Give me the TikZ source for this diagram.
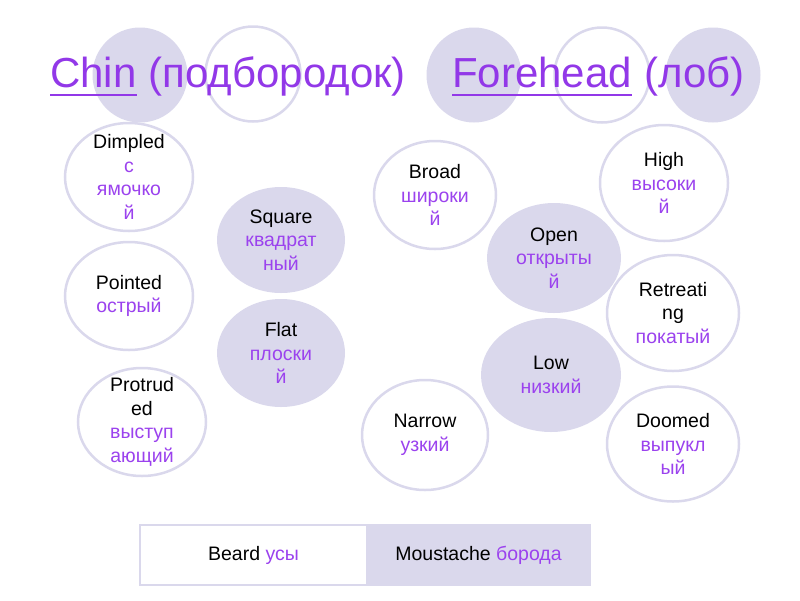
\documentclass[tikz,border=0pt]{standalone}
\usepackage{fontspec}
\setmainfont{Liberation Sans}
\usetikzlibrary{shapes.geometric}
\definecolor{lav}{RGB}{218,216,236}
\definecolor{pur}{RGB}{146,56,232}
\definecolor{rup}{RGB}{155,66,238}
\newcommand\rutext[1]{\textcolor{rup}{#1}}
\tikzset{
  deco/.style={circle, inner sep=0pt, minimum size=95pt},
  decofill/.style={deco, fill=lav},
  decoline/.style={deco, draw=lav, line width=2.5pt, fill=white},
  bubopen/.style={ellipse, inner sep=0pt, draw=lav, line width=2.5pt, fill=white},
  bubfill/.style={ellipse, inner sep=0pt, fill=lav},
  lbl/.style={align=center, inner sep=0pt, font=\fontsize{19.5}{23.5}\selectfont},
  ttl/.style={anchor=base west, inner sep=0pt, text=pur, font=\fontsize{42}{50}\selectfont},
  uline/.style={draw=pur, line width=2.6pt},
  cell/.style={rectangle, inner sep=0pt, minimum height=60pt, font=\fontsize{19.5}{23.5}\selectfont}
}
\begin{document}
\begin{tikzpicture}[x=1pt,y=-1pt]
\useasboundingbox (0,0) rectangle (800,600);
% decorative circles behind the title
\node[decofill] (d1) at (140,75) {};
\node[decoline] (d2) at (253,74) {};
\node[decofill] (d3) at (474,75) {};
\node[decoline] (d4) at (602,75) {};
\node[decofill] (d5) at (713,75) {};
% title
\node[ttl] (chin) at (50,87) {Chin};
\node[ttl] (chinru) at ([xshift=11.7pt]chin.base east) {(подбородок)};
\draw[uline] ([yshift=-8pt]chin.base west) -- ([yshift=-8pt]chin.base east);
\node[ttl] (fore) at (452,87) {Forehead};
\node[ttl] (foreru) at ([xshift=11.7pt]fore.base east) {(лоб)};
\draw[uline] ([yshift=-8pt]fore.base west) -- ([yshift=-8pt]fore.base east);
% chin bubbles
\node[bubopen, minimum width=128pt, minimum height=108pt] (dimpled) at (129,177) {};
\node[lbl] at (dimpled) {Dimpled\\\rutext{с}\\\rutext{ямочко}\\\rutext{й}};
\node[bubopen, minimum width=128pt, minimum height=108pt] (pointed) at (129,296) {};
\node[lbl] at (pointed) {Pointed\\\rutext{острый}};
\node[bubopen, minimum width=128pt, minimum height=108pt] (protruded) at (142,422) {};
\node[lbl] at (protruded) {Protrud\\ed\\\rutext{выступ}\\\rutext{ающий}};
\node[bubfill, minimum width=128pt, minimum height=106pt] (square) at (281,240) {};
\node[lbl] at (square) {Square\\\rutext{квадрат}\\\rutext{ный}};
\node[bubfill, minimum width=128pt, minimum height=108pt] (flat) at (281,353) {};
\node[lbl] at (flat) {Flat\\\rutext{плоски}\\\rutext{й}};
% forehead bubbles
\node[bubopen, minimum width=122pt, minimum height=108pt] (broad) at (435,195) {};
\node[lbl] at (broad) {Broad\\\rutext{широки}\\\rutext{й}};
\node[bubopen, minimum width=128pt, minimum height=116pt] (high) at (664,183) {};
\node[lbl] at (high) {High\\\rutext{высоки}\\\rutext{й}};
\node[bubfill, minimum width=134pt, minimum height=110pt] (open) at (554,258) {};
\node[lbl] at (open) {Open\\\rutext{открыты}\\\rutext{й}};
\node[bubopen, minimum width=132pt, minimum height=116pt] (retreating) at (673,313) {};
\node[lbl] at (retreating) {Retreati\\ng\\\rutext{покатый}};
\node[bubfill, minimum width=140pt, minimum height=114pt] (low) at (551,375) {};
\node[lbl] at (low) {Low\\\rutext{низкий}};
\node[bubopen, minimum width=126pt, minimum height=110pt] (narrow) at (425,435) {};
\node[lbl] at (narrow) {Narrow\\\rutext{узкий}};
\node[bubopen, minimum width=132pt, minimum height=115pt] (doomed) at (673,444) {};
\node[lbl] at (doomed) {Doomed\\\rutext{выпукл}\\\rutext{ый}};
% bottom table
\node[cell, fill=white, minimum width=227pt] (beard) at (253.5,555) {Beard \rutext{усы}};
\node[cell, fill=lav, minimum width=223pt] (moust) at (478.5,555) {Moustache \rutext{борода}};
\draw[draw=lav, line width=2.5pt] (beard.north west) rectangle (moust.south east);
\draw[draw=lav, line width=1.5pt] (beard.north east) -- (beard.south east);
\end{tikzpicture}
\end{document}
